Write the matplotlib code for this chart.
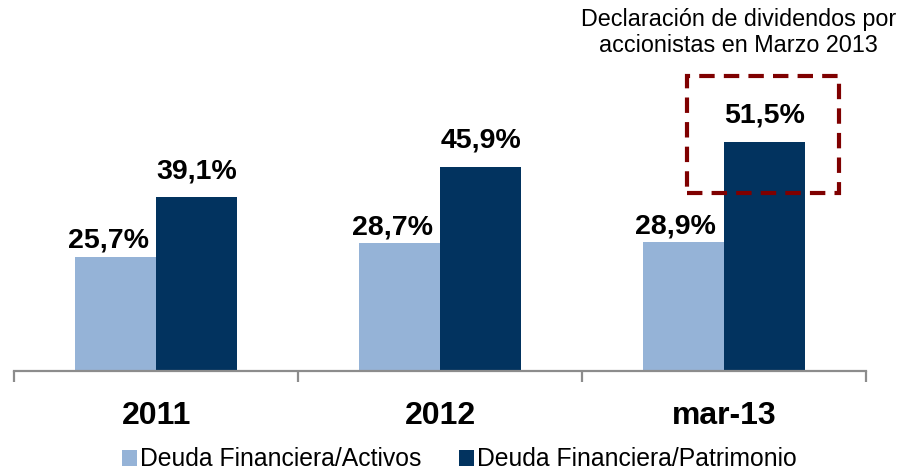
import matplotlib
matplotlib.use("Agg")
import matplotlib.pyplot as plt
import numpy as np
from matplotlib.patches import Rectangle

plt.rcParams['font.family'] = ['Liberation Sans', 'DejaVu Sans']

categorias = ['2011', '2012', 'mar-13']
deuda_activos = [25.7, 28.7, 28.9]
deuda_patrimonio = [39.1, 45.9, 51.5]
series = ['Deuda Financiera/Activos', 'Deuda Financiera/Patrimonio']
nota = 'Declaración de dividendos por\naccionistas en Marzo 2013'

color_claro = '#95B3D7'
color_oscuro = '#02335F'

fig = plt.figure(figsize=(9.06, 4.71), dpi=100)
ax = fig.add_axes([0.0158, 0.2123, 0.94, 0.7877])

x = np.arange(len(categorias))
ancho = 0.285
b1 = ax.bar(x - ancho / 2, deuda_activos, ancho, color=color_claro, label=series[0])
b2 = ax.bar(x + ancho / 2, deuda_patrimonio, ancho, color=color_oscuro, label=series[1])

def fmt(v):
    return f'{v:.1f}%'.replace('.', ',')

for rect, v in zip(b1, deuda_activos):
    ax.annotate(fmt(v), (rect.get_x() + rect.get_width() / 2, v),
                xytext=(-5.5, 6.5), textcoords='offset points',
                ha='center', va='baseline', fontsize=20.5, fontweight='bold')
for rect, v in zip(b2, deuda_patrimonio):
    ax.annotate(fmt(v), (rect.get_x() + rect.get_width() / 2, v),
                xytext=(0, 13.7), textcoords='offset points',
                ha='center', va='baseline', fontsize=20.5, fontweight='bold')

ax.set_xlim(-0.5, 2.5)
ax.set_ylim(0, 83.4)

# recuadro punteado alrededor de mar-13
ax.add_patch(Rectangle((1.869, 40.0), 0.535, 26.3, fill=False,
                       edgecolor='#7F0000', linewidth=3,
                       linestyle=(0, (3.7, 2.2)), clip_on=False))
ax.text(2.05, 81.5, nota, ha='center', va='top', fontsize=16.8, linespacing=1.15)

for s in ['top', 'right', 'left']:
    ax.spines[s].set_visible(False)
ax.spines['bottom'].set_color('#8C8C8C')
ax.spines['bottom'].set_linewidth(1.6)
ax.set_yticks([])
ax.set_xticks([-0.5, 0.5, 1.5, 2.5])
ax.set_xticklabels([])
ax.set_xticks(x, minor=True)
ax.set_xticklabels(categorias, minor=True, fontsize=23, fontweight='bold')
ax.tick_params(axis='x', which='major', direction='out', length=8, width=1.6, color='#8C8C8C')
ax.tick_params(axis='x', which='minor', length=0, pad=21.5)

fig.legend(loc='center', bbox_to_anchor=(459.5 / 906, 11.5 / 471), ncol=2, frameon=False,
           fontsize=17.8, handlelength=0.6, handleheight=0.6, handletextpad=0.15,
           columnspacing=1.5, borderpad=0)

fig.savefig('out.png', dpi=100)
